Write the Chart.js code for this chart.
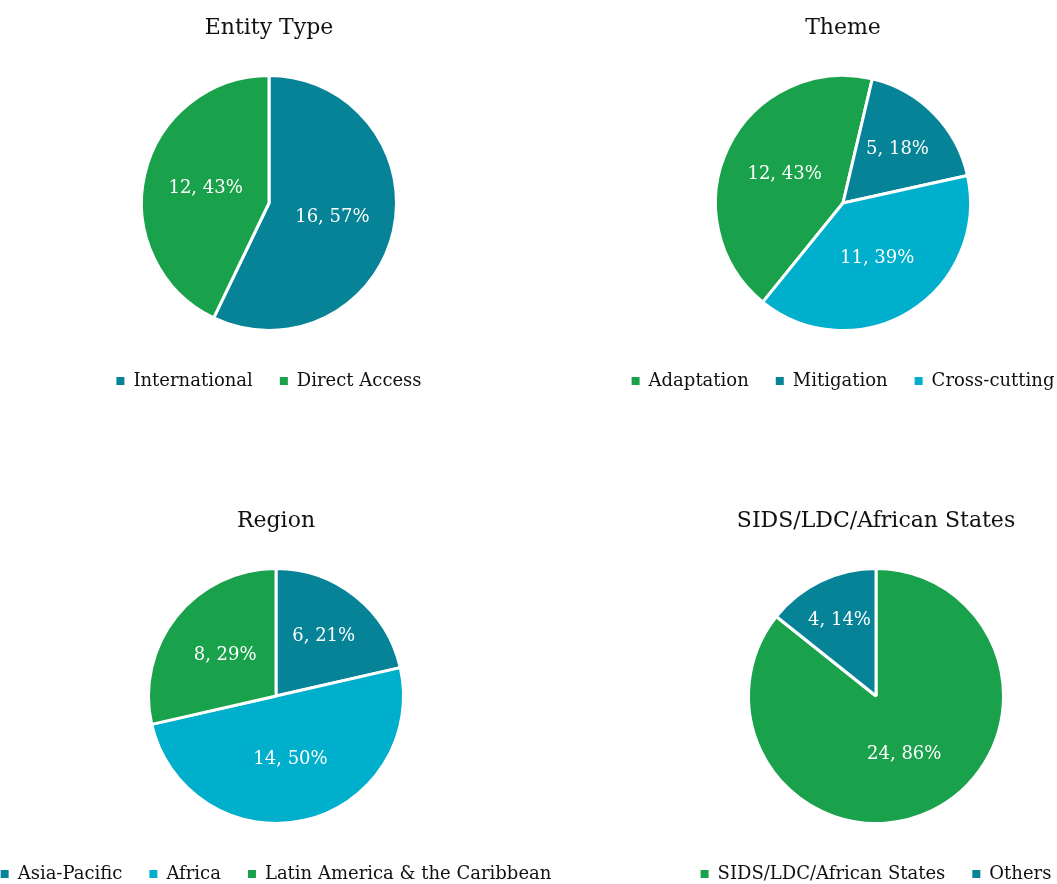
<!DOCTYPE html>
<html>
<head>
<meta charset="utf-8">
<script src="https://cdn.jsdelivr.net/npm/chart.js@4"></script>
<style>
  html, body { margin:0; padding:0; background:#fff; width:1057px; height:884px; overflow:hidden; position:relative; }
  .box { position:absolute; }
</style>
</head>
<body>
<div class="box" style="left:0px;top:0px;width:538px;height:400px"><canvas id="entityChart"></canvas></div>
<div class="box" style="left:583px;top:0px;width:520px;height:400px"><canvas id="themeChart"></canvas></div>
<div class="box" style="left:-74px;top:493px;width:700px;height:400px"><canvas id="regionChart"></canvas></div>
<div class="box" style="left:656px;top:493px;width:440px;height:400px"><canvas id="sidsChart"></canvas></div>
<script>
// --- Données ---
const entityLabels = ['International', 'Direct Access'];
const entityValues = [16, 12];

const themeLabels = ['Adaptation', 'Mitigation', 'Cross-cutting'];
const themeValues = [12, 5, 11];

const regionLabels = ['Asia-Pacific', 'Africa', 'Latin America & the Caribbean'];
const regionValues = [6, 14, 8];

const sidsLabels = ['SIDS/LDC/African States', 'Others'];
const sidsValues = [24, 4];

// --- Couleurs ---
const GREEN = '#1aa14b';
const TEAL = '#068397';
const CYAN = '#00afcb';
const FONT = '"DejaVu Serif", serif';

// labels "valeur, %" dans les parts
const sliceLabels = {
    id: 'sliceLabels',
    afterDatasetsDraw(chart) {
        const ctx = chart.ctx;
        const meta = chart.getDatasetMeta(0);
        const data = chart.data.datasets[0].data;
        const total = data.reduce((a, b) => a + b, 0);
        ctx.save();
        ctx.font = '18px ' + FONT;
        ctx.fillStyle = '#fff';
        ctx.textAlign = 'center';
        ctx.textBaseline = 'middle';
        meta.data.forEach((arc, i) => {
            const p = arc.getProps(['x', 'y', 'startAngle', 'endAngle', 'outerRadius'], true);
            const mid = (p.startAngle + p.endAngle) / 2;
            const frac = data[i] / total;
            const k = frac < 0.16 ? 0.66 : (frac < 0.25 ? 0.6 : 0.51);
            const x = p.x + Math.cos(mid) * p.outerRadius * k;
            const y = p.y + Math.sin(mid) * p.outerRadius * k;
            ctx.fillText(data[i] + ', ' + Math.round(frac * 100) + '%', x, y);
        });
        ctx.restore();
    }
};

function makePie(id, title, labels, values, colors, rotation) {
    new Chart(document.getElementById(id).getContext('2d'), {
        type: 'pie',
        data: {
            labels: labels,
            datasets: [{
                data: values,
                backgroundColor: colors,
                borderColor: '#fff',
                borderWidth: 3
            }]
        },
        options: {
            responsive: true,
            maintainAspectRatio: false,
            animation: false,
            radius: 127.5,
            rotation: rotation,
            layout: { padding: 0 },
            plugins: {
                tooltip: { enabled: false },
                title: {
                    display: true,
                    text: title,
                    color: '#111',
                    font: { family: FONT, size: 22, weight: 'normal' },
                    padding: { top: 14.8, bottom: 19.8 }
                },
                legend: {
                    position: 'bottom',
                    labels: {
                        color: '#111',
                        font: { family: FONT, size: 18 },
                        boxWidth: 8,
                        boxHeight: 8,
                        padding: 27,
                        generateLabels: (chart) => Chart.overrides.pie.plugins.legend.labels.generateLabels(chart)
                            .map(item => Object.assign(item, { lineWidth: 0 }))
                    }
                }
            }
        },
        plugins: [sliceLabels]
    });
}

makePie('entityChart', 'Entity Type', entityLabels, entityValues, [TEAL, GREEN], 0);
makePie('themeChart', 'Theme', themeLabels, themeValues, [GREEN, TEAL, CYAN], 219);
makePie('regionChart', 'Region', regionLabels, regionValues, [TEAL, CYAN, GREEN], 0);
makePie('sidsChart', 'SIDS/LDC/African States', sidsLabels, sidsValues, [GREEN, TEAL], 0);
</script>
</body>
</html>
